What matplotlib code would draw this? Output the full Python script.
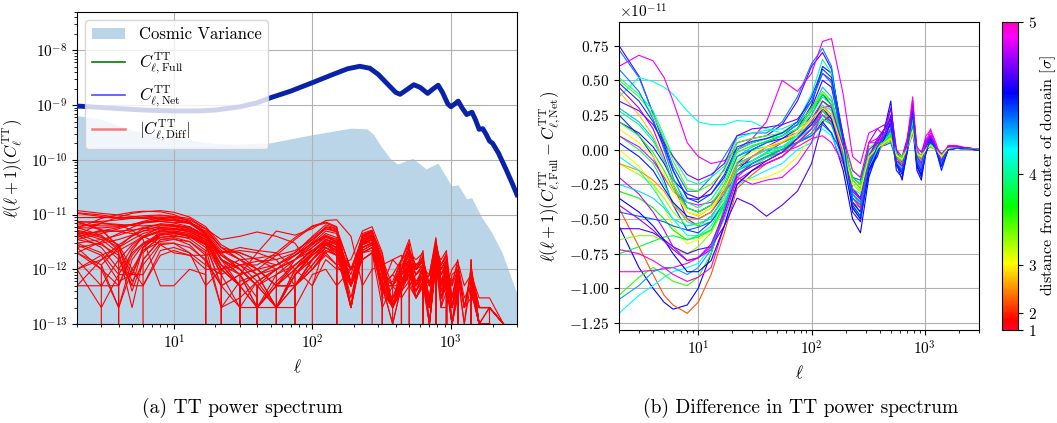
import numpy as np
import matplotlib
matplotlib.use("Agg")
import matplotlib.pyplot as plt
from matplotlib import colors, cm
from matplotlib.lines import Line2D
from matplotlib.patches import Patch
from matplotlib.ticker import MultipleLocator

plt.rcParams["font.family"] = "serif"
plt.rcParams["font.serif"] = ["cmr10", "DejaVu Serif"]
plt.rcParams["mathtext.fontset"] = "cm"
plt.rcParams["axes.formatter.use_mathtext"] = True

# l(l+1) C_l^TT
ell_tt = [2, 3, 4, 6, 10, 15, 20, 30, 40, 50, 70, 100, 140, 180, 220, 260, 300, 350,
          400, 430, 480, 540, 600, 680, 740, 810, 870, 950, 1000, 1070, 1130, 1200,
          1300, 1420, 1500, 1600, 1700, 1800, 1900, 2000, 2200, 2500, 2800, 3000]
dl_tt = [9.6e-10, 9.0e-10, 8.6e-10, 8.1e-10, 7.8e-10, 7.8e-10, 8.1e-10, 9.3e-10,
         1.1e-9, 1.36e-9, 1.8e-9, 2.56e-9, 3.6e-9, 4.6e-9, 5.1e-9, 4.7e-9, 3.6e-9,
         2.4e-9, 1.7e-9, 1.57e-9, 1.9e-9, 2.35e-9, 2.1e-9, 1.63e-9, 1.95e-9, 2.3e-9,
         1.7e-9, 1.05e-9, 9.3e-10, 1.05e-9, 1.18e-9, 9.0e-10, 6.7e-10, 7.4e-10,
         5.5e-10, 3.6e-10, 3.7e-10, 2.9e-10, 2.2e-10, 2.0e-10, 1.34e-10, 6.7e-11,
         3.5e-11, 2.3e-11]

# upper edge of the cosmic variance band
ell_cv = [2, 3, 5, 10, 20, 28, 50, 100, 190, 250, 280, 313, 371, 415, 534, 668, 813,
          1016, 1137, 1309, 1423, 1684, 1991, 2357, 2712, 3000]
cv_tt = [6.3e-10, 5.4e-10, 3.4e-10, 2.4e-10, 1.95e-10, 1.86e-10, 2.0e-10, 2.8e-10,
         3.7e-10, 3.6e-10, 2.8e-10, 1.78e-10, 1.01e-10, 8.2e-11, 1.04e-10, 6.7e-11,
         8.5e-11, 3.3e-11, 3.4e-11, 1.9e-11, 2.0e-11, 8.7e-12, 4.6e-12, 2.0e-12,
         7.5e-13, 3.7e-13]

# Full - Net differences in units of 1e-11, one row per sampled point of the domain
ell_diff = [2, 3, 4, 5, 6, 8, 10, 13, 17, 22, 30, 40, 55, 75, 100, 125, 150, 190, 230,
            270, 320, 380, 440, 500, 560, 630, 700, 780, 850, 930, 1020, 1120, 1250,
            1400, 1600, 1900, 2400, 3000]
dist_sigma = [4.7, 4.4, 4.15, 4.9, 4.6, 2.3, 4.2, 3.6, 4.8, 4.5,
              3.9, 3.1, 3.4, 4.7, 4.95, 4.3, 2.8, 3.7, 4.55, 4.85,
              4.05, 3.3, 4.65, 4.45, 3.8, 4.9, 4.25, 4.75, 3.5, 2.6,
              4.35, 4.98, 4.4, 4.1, 3.65, 4.6, 3.95, 4.8, 3.0, 4.5]
diff_tt = [
    [0.75, 0.53, 0.26, 0.04, -0.15, -0.35, -0.36, -0.28, -0.14, 0.05, 0.08, 0.10, 0.18, 0.35, 0.60, 0.70, 0.58, 0.05, -0.38, -0.45, -0.15, 0.02, 0.10, 0.14, -0.06, -0.10, 0.03, 0.25, -0.06, -0.10, 0.00, 0.07, 0.00, -0.09, 0.01, 0.02, 0.01, 0.003],
    [0.72, 0.52, 0.26, 0.06, -0.12, -0.30, -0.30, -0.20, -0.05, 0.10, 0.12, 0.12, 0.20, 0.38, 0.62, 0.73, 0.60, 0.02, -0.42, -0.50, -0.18, -0.02, 0.08, 0.12, -0.12, -0.16, 0.00, 0.28, -0.08, -0.14, -0.02, 0.10, 0.00, -0.12, 0.00, 0.02, 0.01, -0.003],
    [0.38, 0.52, 0.49, 0.45, 0.40, 0.28, 0.20, 0.18, 0.18, 0.21, 0.20, 0.15, 0.12, 0.18, 0.30, 0.40, 0.32, 0.05, -0.15, -0.20, -0.05, 0.03, 0.08, 0.10, -0.03, -0.05, 0.02, 0.15, -0.03, -0.05, 0.01, 0.04, 0.00, -0.05, 0.01, 0.01, 0.005, 0.002],
    [0.60, 0.68, 0.64, 0.52, 0.35, 0.05, -0.05, -0.10, -0.08, 0.00, 0.08, 0.20, 0.50, 0.42, 0.55, 0.78, 0.80, 0.40, -0.05, -0.10, 0.12, 0.15, 0.10, 0.30, 0.00, -0.05, 0.08, 0.38, 0.00, -0.05, 0.10, 0.14, 0.05, -0.08, 0.03, 0.03, 0.01, 0.004],
    [-0.55, -0.85, -1.00, -1.10, -1.15, -1.12, -1.00, -0.75, -0.45, -0.15, -0.05, 0.00, 0.02, 0.05, 0.10, 0.20, 0.12, -0.15, -0.50, -0.60, -0.20, -0.02, 0.15, 0.35, -0.10, -0.22, 0.00, 0.20, -0.15, -0.22, 0.00, 0.05, 0.00, -0.10, 0.01, 0.01, 0.005, -0.003],
    [-0.42, -0.70, -0.90, -1.05, -1.12, -1.18, -1.10, -0.90, -0.60, -0.28, -0.18, -0.10, -0.05, 0.05, 0.15, 0.28, 0.20, -0.10, -0.38, -0.42, -0.12, 0.00, 0.05, 0.10, -0.05, -0.12, 0.01, 0.18, -0.04, -0.08, 0.01, 0.04, 0.00, -0.06, 0.01, 0.01, 0.005, 0.002],
    [-1.18, -1.05, -0.98, -0.92, -0.88, -0.85, -0.82, -0.70, -0.50, -0.25, -0.20, -0.15, -0.10, 0.00, 0.05, 0.15, 0.10, -0.10, -0.30, -0.35, -0.08, 0.02, 0.05, 0.08, -0.05, -0.10, 0.02, 0.20, -0.05, -0.10, 0.00, 0.05, 0.00, -0.08, 0.01, 0.01, 0.005, -0.002],
    [-1.05, -0.92, -0.85, -0.90, -0.95, -0.98, -0.92, -0.75, -0.45, -0.15, -0.10, -0.05, 0.02, 0.08, 0.15, 0.25, 0.18, -0.05, -0.25, -0.30, -0.05, 0.03, 0.06, 0.08, -0.04, -0.08, 0.02, 0.15, -0.03, -0.06, 0.01, 0.03, 0.00, -0.05, 0.01, 0.01, 0.004, 0.002],
    [0.45, 0.30, 0.15, -0.05, -0.25, -0.50, -0.55, -0.48, -0.35, -0.10, -0.05, 0.02, 0.08, 0.12, 0.22, 0.35, 0.30, 0.02, -0.20, -0.25, 0.05, 0.15, 0.18, 0.05, -0.03, -0.05, 0.08, 0.30, 0.02, -0.02, 0.08, 0.10, 0.02, -0.03, 0.02, 0.02, 0.01, 0.004],
    [0.25, 0.10, -0.05, -0.22, -0.40, -0.58, -0.60, -0.52, -0.40, -0.12, -0.08, -0.02, 0.05, 0.10, 0.25, 0.40, 0.32, -0.05, -0.32, -0.38, -0.10, 0.00, 0.08, 0.12, -0.12, -0.15, 0.00, 0.22, -0.10, -0.15, -0.02, 0.05, 0.00, -0.12, 0.00, 0.01, 0.005, -0.003],
    [0.10, 0.00, -0.10, -0.25, -0.38, -0.52, -0.55, -0.48, -0.35, -0.08, 0.00, 0.02, 0.05, 0.10, 0.18, 0.28, 0.22, -0.02, -0.25, -0.30, -0.05, 0.02, 0.06, 0.10, -0.05, -0.08, 0.02, 0.20, -0.05, -0.08, 0.00, 0.04, 0.00, -0.06, 0.01, 0.01, 0.004, 0.002],
    [0.00, -0.12, -0.25, -0.42, -0.55, -0.68, -0.65, -0.58, -0.40, -0.20, -0.22, -0.20, -0.15, -0.05, 0.10, 0.22, 0.18, -0.02, -0.22, -0.28, -0.05, 0.01, 0.05, 0.08, -0.04, -0.06, 0.01, 0.15, -0.03, -0.05, 0.00, 0.03, 0.00, -0.05, 0.01, 0.01, 0.004, 0.002],
    [-0.65, -0.62, -0.62, -0.66, -0.72, -0.75, -0.70, -0.60, -0.42, -0.15, -0.10, -0.05, 0.00, 0.10, 0.20, 0.35, 0.30, 0.05, -0.15, -0.20, 0.02, 0.05, 0.08, 0.12, -0.03, -0.05, 0.03, 0.18, -0.03, -0.05, 0.01, 0.04, 0.00, -0.04, 0.01, 0.01, 0.004, 0.002],
    [-0.57, -0.57, -0.60, -0.65, -0.70, -0.75, -0.72, -0.70, -0.55, -0.35, -0.40, -0.48, -0.40, -0.30, -0.10, 0.20, 0.25, 0.10, -0.28, -0.35, -0.05, 0.05, 0.10, 0.25, -0.10, -0.15, 0.02, 0.30, -0.12, -0.18, 0.00, 0.06, 0.00, -0.10, 0.01, 0.01, 0.005, -0.003],
    [-0.88, -0.88, -0.87, -0.86, -0.85, -0.82, -0.78, -0.70, -0.45, -0.20, -0.10, -0.05, -0.02, 0.02, 0.08, 0.10, 0.05, -0.10, -0.30, -0.35, 0.05, 0.05, 0.05, 0.12, -0.10, -0.15, 0.05, 0.35, -0.05, -0.10, 0.05, 0.15, 0.02, -0.08, 0.02, 0.02, 0.01, 0.005],
    [0.30, 0.20, 0.08, -0.08, -0.25, -0.42, -0.45, -0.40, -0.28, -0.05, 0.02, 0.06, 0.10, 0.15, 0.28, 0.45, 0.38, 0.02, -0.32, -0.40, -0.10, 0.02, 0.06, 0.15, -0.08, -0.12, 0.02, 0.25, -0.06, -0.12, 0.00, 0.06, 0.00, -0.10, 0.01, 0.01, 0.005, -0.002],
    [0.42, 0.25, 0.10, -0.08, -0.25, -0.45, -0.48, -0.42, -0.30, -0.10, -0.05, 0.00, 0.05, 0.15, 0.22, 0.30, 0.25, -0.05, -0.35, -0.40, -0.12, -0.02, 0.04, 0.08, -0.05, -0.10, 0.01, 0.15, -0.04, -0.08, 0.00, 0.03, 0.00, -0.05, 0.01, 0.01, 0.004, 0.002],
    [-0.30, -0.35, -0.42, -0.50, -0.58, -0.65, -0.63, -0.58, -0.40, -0.15, -0.08, -0.03, 0.00, 0.08, 0.18, 0.28, 0.22, 0.00, -0.20, -0.25, -0.04, 0.02, 0.05, 0.08, -0.03, -0.06, 0.02, 0.15, -0.03, -0.05, 0.00, 0.03, 0.00, -0.05, 0.01, 0.01, 0.004, 0.002],
    [0.05, -0.05, -0.15, -0.28, -0.38, -0.48, -0.50, -0.45, -0.32, -0.10, 0.00, 0.05, 0.08, 0.15, 0.32, 0.60, 0.55, 0.10, -0.38, -0.45, -0.15, -0.05, 0.10, 0.20, -0.15, -0.20, -0.02, 0.28, -0.12, -0.20, -0.03, 0.08, 0.00, -0.15, 0.00, 0.01, 0.005, -0.004],
    [-0.20, -0.32, -0.45, -0.58, -0.70, -0.80, -0.78, -0.72, -0.48, -0.22, -0.15, -0.10, -0.05, 0.05, 0.15, 0.25, 0.20, 0.00, -0.25, -0.30, -0.05, 0.05, 0.10, 0.15, -0.05, -0.08, 0.05, 0.25, -0.03, -0.08, 0.02, 0.08, 0.01, -0.06, 0.01, 0.01, 0.005, 0.003],
    [0.52, 0.40, 0.28, 0.10, -0.05, -0.22, -0.25, -0.20, -0.12, 0.08, 0.12, 0.14, 0.15, 0.20, 0.40, 0.65, 0.55, 0.05, -0.30, -0.35, -0.08, 0.02, 0.10, 0.18, -0.05, -0.10, 0.03, 0.25, -0.05, -0.10, 0.01, 0.06, 0.00, -0.08, 0.01, 0.01, 0.005, 0.002],
    [-0.10, -0.18, -0.25, -0.35, -0.45, -0.55, -0.54, -0.52, -0.35, -0.12, -0.05, 0.00, 0.02, 0.10, 0.20, 0.35, 0.28, 0.02, -0.25, -0.30, -0.05, 0.02, 0.05, 0.10, -0.03, -0.06, 0.02, 0.18, -0.03, -0.06, 0.00, 0.03, 0.00, -0.05, 0.01, 0.01, 0.004, 0.002],
    [0.20, 0.12, 0.02, -0.10, -0.22, -0.32, -0.35, -0.32, -0.20, 0.00, 0.05, 0.08, 0.12, 0.18, 0.30, 0.50, 0.45, 0.05, -0.45, -0.52, -0.10, 0.05, 0.15, 0.22, -0.10, -0.15, 0.05, 0.30, -0.10, -0.15, 0.02, 0.08, 0.01, -0.12, 0.01, 0.02, 0.01, 0.004],
    [-0.45, -0.48, -0.50, -0.52, -0.55, -0.58, -0.56, -0.52, -0.38, -0.18, -0.10, -0.05, 0.00, 0.05, 0.10, 0.18, 0.12, -0.05, -0.20, -0.22, 0.00, 0.05, 0.03, 0.05, -0.08, -0.10, 0.00, 0.12, -0.08, -0.10, 0.00, 0.02, 0.00, -0.08, 0.00, 0.01, 0.004, -0.002],
    [-0.75, -0.70, -0.66, -0.63, -0.62, -0.65, -0.62, -0.58, -0.40, -0.18, -0.12, -0.06, -0.02, 0.05, 0.12, 0.22, 0.18, 0.00, -0.20, -0.25, -0.04, 0.02, 0.04, 0.06, -0.03, -0.05, 0.01, 0.12, -0.02, -0.04, 0.00, 0.02, 0.00, -0.04, 0.01, 0.01, 0.003, 0.002],
    [0.10, 0.02, -0.08, -0.20, -0.30, -0.38, -0.40, -0.38, -0.30, -0.20, -0.25, -0.22, -0.20, -0.10, 0.05, 0.30, 0.32, 0.10, -0.15, -0.20, 0.05, 0.08, 0.05, 0.15, -0.05, -0.10, 0.08, 0.32, -0.02, -0.08, 0.06, 0.12, 0.03, -0.05, 0.02, 0.02, 0.01, 0.005],
    [-0.25, -0.30, -0.35, -0.42, -0.50, -0.55, -0.53, -0.50, -0.32, -0.10, -0.05, 0.00, 0.02, 0.08, 0.15, 0.30, 0.25, -0.05, -0.40, -0.48, -0.12, -0.02, 0.05, 0.10, -0.10, -0.12, 0.00, 0.22, -0.06, -0.10, 0.00, 0.05, 0.00, -0.08, 0.01, 0.01, 0.004, -0.002],
    [0.35, 0.28, 0.18, 0.05, -0.05, -0.18, -0.22, -0.18, -0.10, 0.10, 0.15, 0.16, 0.18, 0.22, 0.35, 0.55, 0.50, 0.10, -0.28, -0.35, -0.05, 0.08, 0.15, 0.30, 0.00, -0.10, 0.05, 0.30, -0.05, -0.10, 0.05, 0.10, 0.02, -0.08, 0.02, 0.02, 0.01, 0.004],
    [0.50, 0.38, 0.25, 0.08, -0.08, -0.28, -0.30, -0.25, -0.15, 0.05, 0.08, 0.10, 0.12, 0.18, 0.30, 0.42, 0.35, 0.03, -0.25, -0.30, -0.05, 0.02, 0.05, 0.10, -0.04, -0.08, 0.01, 0.18, -0.03, -0.06, 0.01, 0.04, 0.00, -0.05, 0.01, 0.01, 0.004, 0.002],
    [-0.10, -0.15, -0.22, -0.30, -0.40, -0.50, -0.50, -0.45, -0.30, -0.12, -0.05, 0.02, 0.05, 0.12, 0.22, 0.32, 0.25, -0.05, -0.35, -0.40, -0.10, 0.00, 0.04, 0.10, -0.05, -0.10, 0.01, 0.15, -0.04, -0.06, 0.00, 0.03, 0.00, -0.05, 0.01, 0.01, 0.004, 0.002],
    [-1.08, -0.98, -0.88, -0.85, -0.85, -0.90, -0.85, -0.72, -0.42, -0.15, -0.10, -0.05, 0.00, 0.05, 0.12, 0.25, 0.18, -0.05, -0.32, -0.38, -0.08, 0.02, 0.06, 0.12, -0.10, -0.14, 0.00, 0.22, -0.08, -0.12, 0.00, 0.05, 0.00, -0.10, 0.00, 0.01, 0.005, -0.003],
    [-0.72, -0.75, -0.80, -0.85, -0.90, -0.95, -0.92, -0.85, -0.55, -0.25, -0.15, -0.10, -0.05, 0.05, 0.15, 0.30, 0.25, -0.02, -0.35, -0.42, -0.08, 0.05, 0.12, 0.18, -0.12, -0.15, 0.05, 0.35, -0.08, -0.12, 0.03, 0.10, 0.02, -0.10, 0.02, 0.02, 0.01, 0.004],
    [0.58, 0.42, 0.22, 0.00, -0.20, -0.42, -0.45, -0.40, -0.28, -0.05, 0.00, 0.05, 0.10, 0.18, 0.35, 0.55, 0.48, 0.02, -0.35, -0.40, -0.10, 0.02, 0.08, 0.15, -0.10, -0.14, 0.00, 0.25, -0.08, -0.14, -0.01, 0.06, 0.00, -0.10, 0.01, 0.01, 0.005, -0.003],
    [-0.05, -0.15, -0.28, -0.40, -0.50, -0.62, -0.62, -0.55, -0.38, -0.15, -0.08, -0.02, 0.02, 0.10, 0.20, 0.32, 0.28, 0.00, -0.40, -0.50, -0.12, 0.00, 0.06, 0.12, -0.08, -0.12, 0.02, 0.22, -0.05, -0.10, 0.00, 0.05, 0.00, -0.07, 0.01, 0.01, 0.004, 0.002],
    [0.20, 0.10, -0.02, -0.15, -0.28, -0.42, -0.45, -0.40, -0.25, -0.02, 0.03, 0.06, 0.10, 0.15, 0.28, 0.40, 0.35, 0.05, -0.22, -0.28, -0.03, 0.03, 0.06, 0.10, -0.03, -0.06, 0.02, 0.16, -0.03, -0.05, 0.01, 0.04, 0.00, -0.05, 0.01, 0.01, 0.004, 0.002],
    [-0.35, -0.45, -0.55, -0.65, -0.75, -0.88, -0.88, -0.80, -0.55, -0.25, -0.15, -0.08, -0.02, 0.08, 0.18, 0.30, 0.22, -0.08, -0.42, -0.50, -0.15, -0.02, 0.08, 0.20, -0.10, -0.18, 0.00, 0.20, -0.12, -0.18, -0.02, 0.05, 0.00, -0.12, 0.00, 0.01, 0.005, -0.003],
    [0.28, 0.18, 0.06, -0.08, -0.22, -0.38, -0.42, -0.36, -0.22, 0.00, 0.05, 0.08, 0.10, 0.15, 0.25, 0.38, 0.32, 0.05, -0.28, -0.32, -0.06, 0.02, 0.06, 0.12, -0.05, -0.08, 0.02, 0.20, -0.04, -0.08, 0.00, 0.04, 0.00, -0.06, 0.01, 0.01, 0.004, 0.002],
    [-0.40, -0.50, -0.58, -0.66, -0.72, -0.80, -0.78, -0.68, -0.45, -0.18, -0.12, -0.08, -0.02, 0.08, 0.20, 0.35, 0.30, 0.02, -0.30, -0.36, -0.05, 0.06, 0.15, 0.20, -0.08, -0.12, 0.05, 0.32, -0.05, -0.10, 0.03, 0.10, 0.02, -0.08, 0.02, 0.02, 0.01, 0.004],
    [0.15, 0.05, -0.05, -0.18, -0.30, -0.45, -0.47, -0.42, -0.28, -0.08, -0.02, 0.02, 0.06, 0.12, 0.22, 0.30, 0.25, 0.00, -0.25, -0.30, -0.05, 0.01, 0.05, 0.08, -0.04, -0.07, 0.01, 0.14, -0.03, -0.05, 0.00, 0.03, 0.00, -0.05, 0.01, 0.01, 0.004, 0.002],
    [0.48, 0.35, 0.20, 0.02, -0.15, -0.35, -0.38, -0.32, -0.18, 0.02, 0.06, 0.08, 0.12, 0.20, 0.38, 0.58, 0.52, 0.06, -0.40, -0.48, -0.12, 0.02, 0.10, 0.18, -0.12, -0.16, 0.00, 0.26, -0.10, -0.16, -0.02, 0.07, 0.00, -0.12, 0.00, 0.01, 0.005, -0.003],
]

fig = plt.figure(figsize=(10.57, 4.23), dpi=100)
ax1 = fig.add_axes([0.0728, 0.234, 0.4163, 0.7376])
ax2 = fig.add_axes([0.5856, 0.2199, 0.3406, 0.7281])
cax = fig.add_axes([0.948, 0.2199, 0.0151, 0.7281])

# ---- (a) spectrum
ax1.set_xscale("log")
ax1.set_yscale("log")
ax1.fill_between(ell_cv, 1e-20, cv_tt, color="C0", alpha=0.3, lw=0, zorder=1)
for row in diff_tt:
    ax1.plot(ell_diff, np.abs(row) * 1e-11, color="red", lw=0.8, zorder=2)
ax1.plot(ell_tt, dl_tt, color="green", lw=1.0, zorder=3)
ax1.plot(ell_tt, dl_tt, color="#0a22a8", lw=3.5, zorder=4)
ax1.set_xlim(2, 3000)
ax1.set_ylim(1e-13, 5e-8)
ax1.grid(True, which="major", color="#b0b0b0", lw=0.8)
ax1.set_xlabel(r"$\ell$", fontsize=12)
ax1.set_ylabel(r"$\ell(\ell+1)(C_\ell^{\rm TT})$", fontsize=12)
ax1.tick_params(labelsize=11)

handles = [Patch(facecolor="C0", alpha=0.3),
           Line2D([], [], color="green", lw=1.2),
           Line2D([], [], color="blue", lw=1.2, alpha=0.7),
           Line2D([], [], color="red", lw=1.8, alpha=0.5)]
labels = ["Cosmic Variance", r"$C^{\rm TT}_{\ell,{\rm Full}}$",
          r"$C^{\rm TT}_{\ell,{\rm Net}}$", r"$|C^{\rm TT}_{\ell,{\rm Diff}}|$"]
ax1.legend(handles, labels, loc="upper left", fontsize=12)

# ---- (b) differences coloured by distance from the domain centre
cmap = plt.get_cmap("gist_rainbow")
norm = colors.FuncNorm((lambda x: x ** 3, lambda x: np.cbrt(x)), vmin=1, vmax=5)
ax2.set_xscale("log")
for d, row in zip(dist_sigma, diff_tt):
    ax2.plot(ell_diff, np.array(row) * 1e-11, color=cmap(norm(d)), lw=0.8)
ax2.set_xlim(2, 3000)
ax2.set_ylim(-1.30e-11, 0.92e-11)
ax2.yaxis.set_major_locator(MultipleLocator(0.25e-11))
ax2.grid(True, which="major", color="#b0b0b0", lw=0.8)
ax2.set_xlabel(r"$\ell$", fontsize=12)
ax2.set_ylabel(r"$\ell(\ell+1)(C^{\rm TT}_{\ell,{\rm Full}} - C^{\rm TT}_{\ell,{\rm Net}})$",
               fontsize=12)
ax2.tick_params(labelsize=11)
ax2.yaxis.get_offset_text().set_fontsize(11)

sm = cm.ScalarMappable(norm=norm, cmap=cmap)
cb = fig.colorbar(sm, cax=cax, ticks=[1, 2, 3, 4, 5])
cb.set_label(r"distance from center of domain [$\sigma$]", fontsize=11.5, labelpad=1)
cb.ax.tick_params(labelsize=11)

fig.text(0.229, 0.035, "(a) TT power spectrum", ha="center", va="center", fontsize=14)
fig.text(0.757, 0.035, "(b) Difference in TT power spectrum", ha="center", va="center",
         fontsize=14)

fig.savefig("out.png", dpi=100)
